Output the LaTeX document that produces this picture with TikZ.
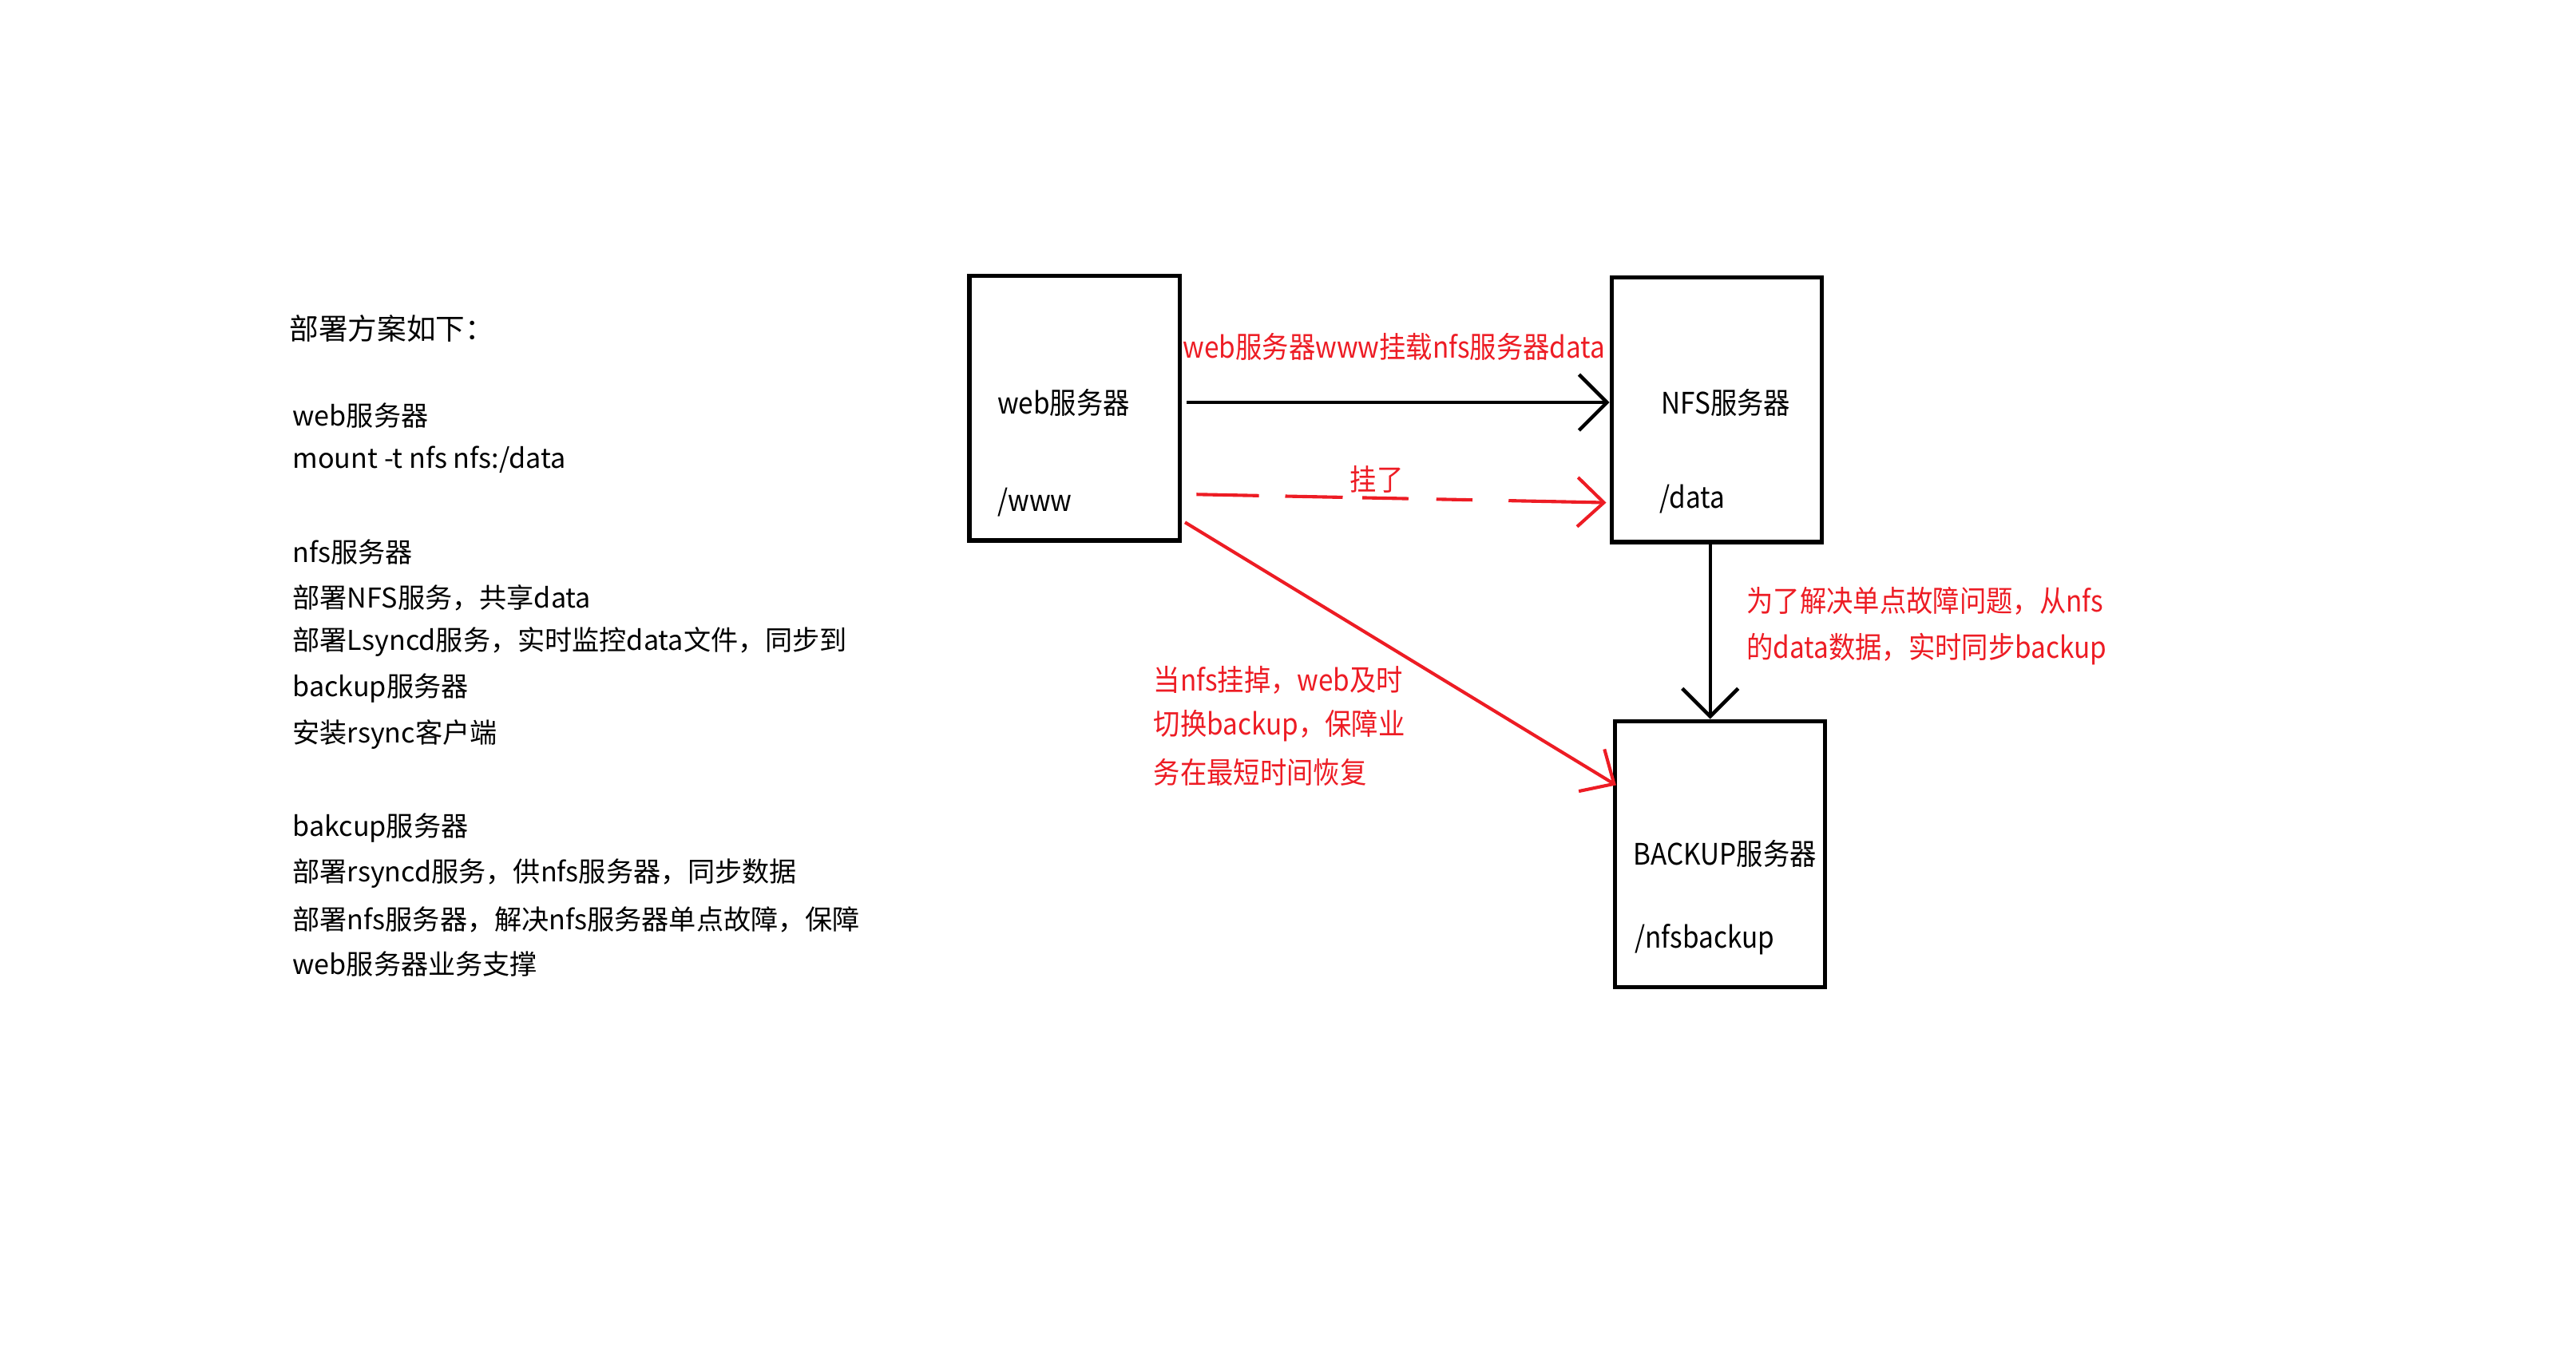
\documentclass[tikz,border=0pt]{standalone}
\usepackage{fontspec}
\setmainfont{Noto Sans CJK SC}
\newfontfamily\cond[FakeStretch=0.9]{Noto Sans CJK SC}
\usetikzlibrary{arrows.meta}
\definecolor{pred}{RGB}{237,28,36}
\tikzset{
  box/.style={draw=black, line width=2.6pt, minimum width=128pt, minimum height=161pt, inner sep=0pt},
  boxtxt/.style={anchor=west, inner sep=0pt, font=\cond\fontsize{18}{20}\selectfont},
  redtxt/.style={anchor=west, inner sep=0pt, text=pred, font=\cond\fontsize{18}{20}\selectfont},
  lefttxt/.style={anchor=west, inner sep=0pt, font=\fontsize{16.6}{20}\selectfont},
  blackarrow/.style={line width=2.2pt, -{Straight Barb[length=17pt, width=34pt, line width=2.2pt]}},
  redarrow/.style={pred, line width=2pt, -{Straight Barb[length=16pt, width=30pt, line width=2pt]}},
}
\begin{document}
\begin{tikzpicture}[x=1pt, y=-1pt]
\useasboundingbox (0,0) rectangle (1568,824);
% boxes
\node[box] (web) at (654,248.5) {};
\node[box] (nfs) at (1045,249.5) {};
\node[box, minimum height=162pt] (bak) at (1047,520) {};
% box texts
\node[boxtxt] (webt) at (607,245) {web服务器};
\node[boxtxt] (wwwt) at (607,306) {/www};
\node[boxtxt] (nfst) at (1011,245) {NFS服务器};
\node[boxtxt] (datat) at (1010,304) {/data};
\node[boxtxt] (bakt) at (994,520) {BACKUP服务器};
\node[boxtxt] (nfsbt) at (995,572) {/nfsbackup};
% connectors
\draw[blackarrow] ([xshift=3pt, yshift=3.5pt]web.east) -- ([yshift=4.5pt]nfs.west);
\draw[redarrow, dash pattern=on 38pt off 16pt on 35pt off 12pt on 28pt off 17pt on 22pt off 22pt on 70pt]
  ([xshift=9pt, yshift=-52.5pt]web.east) -- ([xshift=-2pt, yshift=-56.5pt]nfs.west);
\draw[redarrow] ([xshift=2pt, yshift=-69.5pt]web.east) -- ([xshift=2pt, yshift=42pt]bak.west);
\draw[blackarrow] ([xshift=-4pt]nfs.south) -- ([xshift=-6pt]bak.north);
% red labels
\node[redtxt] (lbltop) at (720,211) {web服务器www挂载nfs服务器data};
\node[redtxt, anchor=center] (lblfail) at (838,292) {挂了};
\node[redtxt] (lblr1) at (1063,366) {为了解决单点故障问题，从nfs};
\node[redtxt] (lblr2) at (1063,395) {的data数据，实时同步backup};
\node[redtxt] (lbll1) at (702,414) {当nfs挂掉，web及时};
\node[redtxt] (lbll2) at (702,442) {切换backup，保障业};
\node[redtxt] (lbll3) at (702,470) {务在最短时间恢复};
% left text
\node[lefttxt, font=\fontsize{17.8}{20}\selectfont] (h) at (176,200) {部署方案如下：};
\node[lefttxt] (l1) at (178,253) {web服务器};
\node[lefttxt] (l2) at (178,280) {mount -t nfs nfs:/data};
\node[lefttxt] (l3) at (178,336) {nfs服务器};
\node[lefttxt] (l4) at (178,364) {部署NFS服务，共享data};
\node[lefttxt] (l5) at (178,391) {部署Lsyncd服务，实时监控data文件，同步到};
\node[lefttxt] (l6) at (178,419) {backup服务器};
\node[lefttxt] (l7) at (178,447) {安装rsync客户端};
\node[lefttxt] (l8) at (178,504) {bakcup服务器};
\node[lefttxt] (l9) at (178,532) {部署rsyncd服务，供nfs服务器，同步数据};
\node[lefttxt] (l10) at (178,560) {部署nfs服务器，解决nfs服务器单点故障，保障};
\node[lefttxt] (l11) at (178,587) {web服务器业务支撑};
\end{tikzpicture}
\end{document}
